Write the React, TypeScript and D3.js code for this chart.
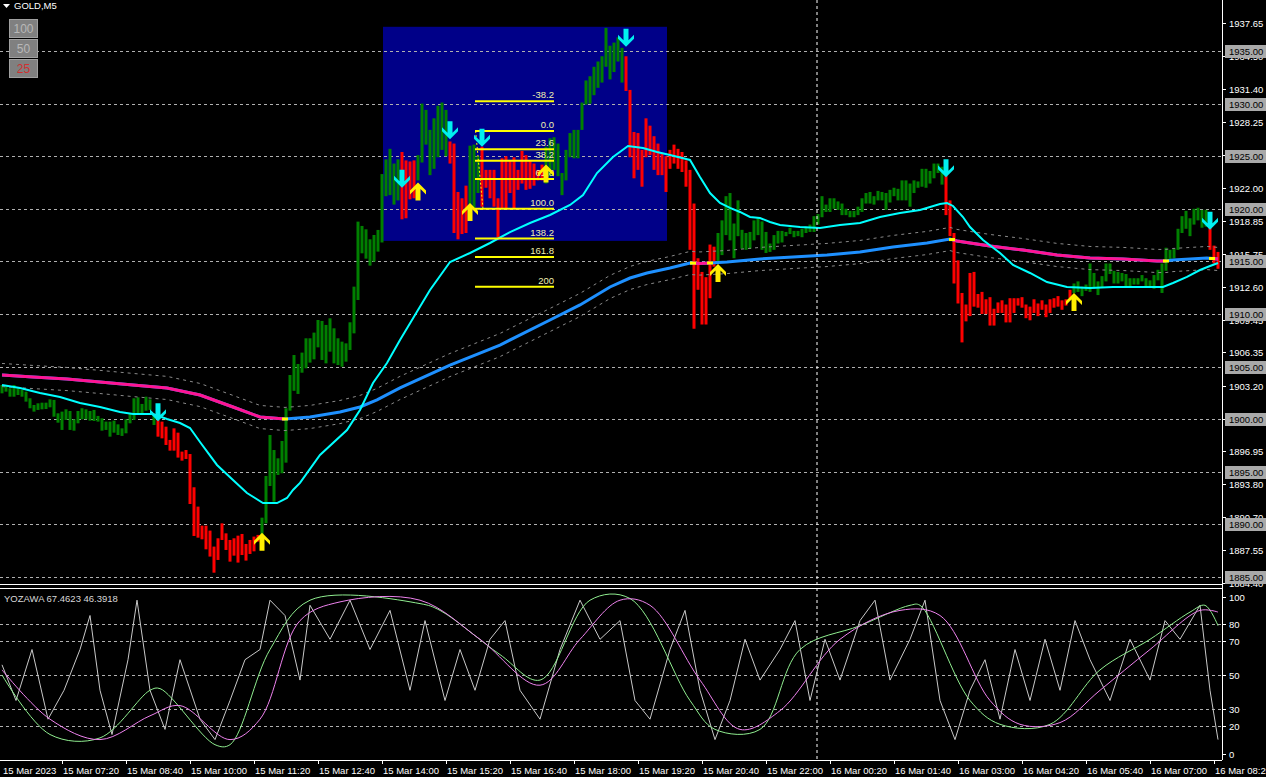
import React from 'react';
import * as d3 from 'd3';

// ---------- DATA ----------
const bodyHi = [
1903.25,1903.25,1902.94,1903.25,1902.94,1902.78,1902.62,1901.99,1901.35,1901.51,
1901.57,1901.57,1901.89,1901.83,1900.56,1900.72,1900.94,1900.78,1899.99,1900.78,
1901.04,1900.94,1900.78,1900.88,1900.31,1900.08,1899.77,1899.77,1899.86,1899.51,
1899.13,1899.99,1900.56,1901.99,1902.08,1901.45,1902.14,1901.89,1900.40,1899.93,
1899.77,1899.29,1898.03,1899.13,1898.72,1896.92,1897.07,1896.69,1893.53,1891.69,
1889.88,1889.88,1889.41,1887.89,1888.68,1890.10,1889.15,1888.52,1888.68,1888.93,
1889.09,1888.14,1888.52,1888.84,1889.00,1890.64,1894.60,1898.50,1897.07,1896.28,
1897.93,1901.04,1904.20,1906.10,1905.25,1906.33,1907.69,1907.69,1908.23,1909.43,
1909.34,1908.96,1909.59,1908.64,1907.69,1907.37,1907.21,1909.21,1912.60,1918.78,
1918.37,1918.05,1917.10,1917.51,1917.99,1923.30,1924.70,1925.70,1924.30,1924.70,
1925.40,1924.60,1924.50,1924.60,1925.10,1930.00,1929.40,1927.50,1928.60,1929.80,
1930.10,1929.40,1926.40,1926.20,1921.60,1921.00,1922.20,1926.00,1926.10,1925.00,
1925.90,1923.70,1923.70,1923.70,1921.00,1924.80,1925.00,1924.60,1924.90,1923.70,
1925.50,1925.10,1924.60,1924.30,1923.70,1924.20,1925.90,1926.70,1926.80,1926.20,
1923.40,1925.60,1927.20,1927.50,1927.50,1930.10,1932.20,1932.60,1933.50,1934.00,
1934.50,1937.20,1935.50,1935.80,1936.30,1935.30,1934.50,1931.30,1927.30,1927.20,
1925.60,1928.60,1927.90,1926.90,1926.20,1925.30,1925.00,1925.60,1926.10,1925.70,
1925.40,1924.60,1923.70,1920.50,1915.30,1914.00,1913.50,1916.60,1916.40,1917.70,
1918.90,1921.20,1921.50,1918.60,1920.80,1918.00,1917.70,1917.80,1918.90,1919.10,
1918.80,1917.80,1916.70,1917.50,1917.90,1917.90,1917.80,1918.20,1917.90,1917.90,
1918.10,1918.30,1918.50,1919.30,1919.50,1921.20,1920.40,1921.00,1921.00,1920.70,
1920.50,1920.00,1919.80,1919.80,1920.20,1921.00,1921.50,1921.60,1921.20,1921.70,
1921.60,1921.50,1921.80,1922.00,1921.90,1922.70,1922.70,1922.40,1922.70,1922.60,
1923.80,1923.80,1923.60,1924.30,1924.30,1924.00,1923.20,1920.80,1917.70,1915.10,
1912.00,1910.90,1913.90,1914.00,1911.90,1912.10,1911.40,1911.60,1910.50,1911.10,
1911.30,1910.90,1911.50,1911.50,1911.50,1911.60,1910.90,1910.70,1911.40,1911.00,
1911.30,1910.90,1911.40,1911.50,1911.70,1911.30,1911.40,1912.30,1912.90,1913.10,
1912.60,1912.80,1914.80,1913.90,1913.10,1913.60,1914.80,1914.80,1914.10,1914.00,
1913.90,1913.80,1913.40,1913.40,1913.40,1913.70,1913.40,1913.20,1913.70,1914.20,
1914.80,1916.30,1916.10,1916.20,1918.10,1919.30,1919.80,1919.10,1920.00,1920.10,
1919.90,1919.90,1918.20,1916.50,1915.90
];
const bodyLo = [
1902.46,1902.62,1902.14,1902.14,1902.30,1902.14,1901.67,1901.04,1900.72,1900.88,
1900.94,1900.97,1901.13,1900.24,1899.67,1898.98,1899.93,1898.98,1898.91,1899.61,
1899.99,1899.99,1899.86,1899.83,1899.77,1898.91,1898.98,1898.34,1898.72,1898.50,
1898.41,1898.66,1899.61,1899.93,1900.40,1900.50,1900.81,1900.88,1899.45,1898.34,
1898.18,1897.55,1897.01,1897.01,1896.35,1896.06,1896.22,1891.94,1888.90,1888.74,
1888.58,1887.63,1886.94,1885.41,1886.62,1888.52,1887.57,1886.46,1887.03,1886.37,
1887.09,1886.56,1887.19,1887.44,1888.36,1888.36,1890.10,1893.65,1892.16,1894.70,
1894.86,1895.87,1900.81,1902.70,1902.40,1904.42,1904.84,1905.38,1905.69,1906.83,
1905.63,1905.31,1906.42,1905.31,1905.15,1904.99,1905.47,1906.58,1908.16,1911.33,
1915.77,1915.26,1914.60,1914.98,1915.93,1916.80,1921.20,1921.30,1920.40,1920.80,
1919.00,1919.10,1920.90,1921.00,1922.70,1924.40,1926.10,1923.20,1923.80,1924.90,
1925.60,1925.00,1924.30,1917.70,1917.10,1917.60,1917.70,1920.20,1920.00,1921.50,
1920.20,1922.00,1921.00,1920.20,1917.30,1920.00,1920.00,1921.50,1920.00,1921.80,
1922.40,1921.80,1921.90,1922.20,1922.70,1922.70,1922.40,1923.10,1923.70,1923.10,
1921.30,1922.70,1924.90,1924.80,1924.80,1927.50,1929.90,1930.00,1930.80,1931.50,
1932.00,1933.50,1932.30,1933.00,1934.00,1932.00,1931.20,1924.90,1922.90,1923.70,
1922.10,1924.90,1925.10,1923.70,1923.20,1923.20,1921.60,1923.80,1924.30,1923.80,
1923.50,1922.10,1916.10,1908.60,1912.30,1909.00,1909.00,1911.50,1914.50,1915.00,
1915.60,1917.50,1917.00,1915.30,1917.40,1916.20,1916.10,1916.20,1917.00,1917.50,
1916.10,1915.80,1915.90,1916.10,1916.70,1916.80,1917.40,1917.60,1917.30,1917.40,
1917.30,1917.70,1917.80,1917.80,1918.50,1919.20,1919.70,1919.70,1920.00,1919.90,
1919.40,1919.40,1919.20,1919.20,1919.40,1919.70,1920.50,1920.50,1920.40,1920.80,
1920.80,1919.90,1920.60,1921.20,1920.80,1920.80,1920.80,1920.20,1921.50,1922.00,
1922.10,1922.00,1922.40,1922.90,1923.40,1922.30,1919.40,1917.40,1912.90,1911.00,
1907.30,1909.30,1909.80,1910.70,1910.60,1910.00,1910.00,1908.90,1908.90,1910.10,
1910.10,1909.20,1909.20,1910.10,1910.80,1910.60,1909.60,1909.40,1910.10,1909.80,
1910.40,1909.70,1910.10,1910.60,1910.70,1910.40,1910.80,1911.50,1912.00,1912.10,
1911.70,1912.20,1912.10,1912.40,1911.80,1912.50,1913.10,1913.80,1912.90,1912.90,
1913.10,1912.60,1912.60,1912.80,1912.80,1913.10,1912.60,1912.60,1912.40,1913.20,
1912.00,1914.10,1915.10,1915.30,1916.10,1917.70,1918.10,1917.40,1918.50,1918.90,
1918.20,1918.30,1916.10,1914.80,1914.30
];
// bar index where the signal turns, and new direction
const trendSwitchBars = [0, 39, 65, 100, 104, 112, 117, 120, 136, 156, 179, 236, 268, 302];
const trendSwitchDirs = ['up','down','up','down','up','down','up','down','up','down','up','down','up','down'];

// [bar, price]
const fastMa: [number, number][] = [
[0,1903.25],[4.5,1902.97],[9.5,1902.49],[14.5,1902.11],[19.5,1901.54],[24.5,1901.16],[29.5,1900.68],
[32.75,1900.49],[37.75,1900.49],[41.25,1900.02],[44.5,1899.64],[47,1899.16],[49.5,1897.83],[53.75,1895.65],
[57.75,1894.22],[61.25,1892.98],[65.25,1892.03],[68.75,1892.03],[71.25,1892.51],[72.75,1893.27],[74.5,1893.94],
[79.5,1896.6],[86.25,1898.97],[89.5,1900.87],[92.75,1903.44],[96.25,1905.34],[99.5,1907.53],[103.25,1909.9],
[107,1912.28],[112,1914.94],[117,1915.8],[122,1916.75],[127,1917.79],[132,1918.65],[137,1919.41],[142,1920.36],
[145.25,1921.31],[148.75,1923.4],[152.75,1924.92],[156.5,1925.97],[160.25,1925.78],[163.75,1925.4],[167,1925.11],
[172,1924.64],[174.5,1923.02],[177,1921.5],[179.5,1920.55],[182,1920.08],[184.5,1919.7],[187,1919.22],[189.5,1919.13],
[192,1918.75],[194.5,1918.46],[199.5,1918.27],[204.5,1918.17],[209.5,1918.46],[214.5,1918.65],[219.5,1919.22],
[224.5,1919.6],[229.5,1919.89],[234.5,1920.46],[236.25,1920.55],[237.75,1920.27],[240.25,1919.22],[242,1918.27],
[245.25,1917.03],[249.5,1915.8],[252.75,1914.66],[257,1913.9],[261.25,1913.04],[266.25,1912.57],[272,1912.47],
[277.75,1912.57],[284.5,1912.57],[290.25,1912.57],[292.75,1912.95],[296.25,1913.52],[299.5,1914.18],[302,1914.56],[304,1914.85]
];
const slowMa: [number, number][] = [
[0,1904.2],[7.75,1904.01],[16.25,1903.82],[24.5,1903.54],[32.75,1903.25],[41.25,1902.97],[49.5,1902.3],
[57.75,1901.16],[64.5,1900.21],[70.75,1900.02],[77,1900.21],[84.5,1900.68],[89.5,1901.16],[93.75,1901.83],
[99.5,1902.97],[112,1905.15],[124.5,1907.05],[137,1909.43],[144.5,1910.86],[152,1912.57],[157,1913.42],
[161.25,1913.9],[167,1914.37],[172,1914.85],[174.5,1914.8],[177,1914.85],[181.25,1914.94],[189.5,1915.23],
[197.75,1915.42],[206.25,1915.61],[214.5,1915.89],[222.75,1916.37],[231.25,1916.75],[237,1917.13],[238.75,1916.94],
[247,1916.46],[255.25,1916.08],[263.75,1915.61],[272,1915.32],[280.25,1915.23],[288.75,1915.04],[291,1915.04],
[292.75,1915.13],[301.25,1915.32],[304,1915.23]
];
// bar ranges where the slow MA is falling (drawn pink)
const slowMaFallingFrom = [0, 172.75, 237.5, 302.5];
const slowMaFallingTo = [70.75, 177, 291, 305];
const envelopeOffsets = [1.1];

const arrowDownBars = [39, 100, 112, 120, 156, 236, 302];
const arrowDownPrices = [1899.8, 1922.0, 1926.6, 1925.9, 1935.4, 1923.0, 1918.0];
const arrowUpBars = [65, 104, 117, 136, 179, 268];
const arrowUpPrices = [1889.2, 1922.5, 1920.55, 1924.2, 1914.75, 1912.0];

const fibLevels = [-38.2, 0, 23.6, 38.2, 61.8, 100, 138.2, 161.8, 200];
const fibLabels = ['-38.2', '0.0', '23.6', '38.2', '61.8', '100.0', '138.2', '161.8', '200'];
const fibPrice0 = 1927.4;
const fibPrice100 = 1920.0;
const fibBarFrom = 118.25;
const fibBarTo = 138;
const fibTrendBars = [118.4, 120.25];

const boxBars = [95.25, 166.25];
const boxPrices = [1937.3, 1916.95];

const gridLevels = [1935, 1930, 1925, 1920, 1915, 1910, 1905, 1900, 1895, 1890, 1885];
const priceTickLabels = ['1937.65','1934.50','1931.40','1928.25','1925.10','1922.00','1918.85','1915.75','1912.60',
  '1909.45','1906.35','1903.20','1900.05','1896.95','1893.80','1890.70','1887.55','1884.40'];
const timeTickBars = [15, 31, 47, 63, 79, 95, 111, 127, 143, 159, 175, 191, 207, 223, 239, 255, 271, 287, 303];
const timeTickLabels = ['15 Mar 07:20','15 Mar 08:40','15 Mar 10:00','15 Mar 11:20','15 Mar 12:40','15 Mar 14:00',
  '15 Mar 15:20','15 Mar 16:40','15 Mar 18:00','15 Mar 19:20','15 Mar 20:40','15 Mar 22:00','16 Mar 00:20',
  '16 Mar 01:40','16 Mar 03:00','16 Mar 04:20','16 Mar 05:40','16 Mar 07:00','16 Mar 08:20'];
const firstDateLabel = '15 Mar 2023';
const daySeparatorBar = 203.75;

const oscTickValues = [100, 80, 70, 50, 30, 20, 0];
const oscLevels = [80, 70, 50, 30, 20];
const oscWhite: [number, number][] = [
[0,56],[3.5,35],[7.5,65],[11.5,24],[15.5,41],[19.5,65],[22,85],[24.5,41],[27.5,15],[31.5,59],[33.75,94],[37,41],
[40.75,18],[44.5,59],[49.5,24],[53.25,12],[57,35],[60.75,59],[64.5,65],[67,94],[70.75,85],[74.5,47],[77,91],[82,71],
[87,94],[92,65],[97,88],[102,41],[105.75,82],[110.75,35],[114.5,65],[118.25,41],[122,71],[125.75,82],[129.5,41],
[134.5,24],[139.5,65],[144.5,94],[149.5,71],[154.5,82],[158.25,35],[162,24],[167,65],[170.75,88],[174.5,41],
[178.25,12],[182,35],[185.75,71],[189.5,47],[194.5,65],[198.25,82],[202,35],[205.75,71],[209.5,47],[214.5,82],
[218.25,94],[222,47],[227,71],[230.75,94],[234.5,35],[238.25,12],[242,41],[245.75,59],[249.5,24],[253.25,65],
[257,35],[260.75,71],[264.5,41],[268.25,82],[272,59],[277,35],[282,71],[287,47],[290.75,82],[294.5,71],[299.5,91],
[302,41],[304,12]
];
const oscGreen: [number, number][] = [
[0,50],[12,15],[24.5,13],[37,41],[39.5,42],[53.25,9],[57,9],[67,65],[77,94],[104.5,92],[109.5,88],[124.5,62],
[134.5,47],[147,94],[157,95],[172,35],[178.25,18],[189.5,18],[199.5,65],[214.5,79],[227,91],[229.5,91],[242,35],
[249.5,21],[262,21],[274.5,53],[287,71],[297,87],[300.75,91],[304,79]
];
const oscViolet: [number, number][] = [
[0,53],[12,24],[24.5,12],[37,26],[44.5,32],[57,12],[64.5,24],[74.5,82],[84.5,93],[104.5,94],[119.5,71],[134.5,44],
[144.5,71],[154.5,94],[162,91],[174.5,47],[184.5,18],[194.5,29],[209.5,71],[224.5,88],[234.5,85],[247,35],[254.5,21],
[264.5,22],[274.5,41],[287,65],[299.5,88],[304,87]
];
const oscTitle = 'YOZAWA 67.4623 46.3918';
const symbolTitle = 'GOLD,M5';
const zoomButtons = ['100', '50', '25'];

// ---------- COMPONENT ----------
const FONT = "'Liberation Sans', Arial, sans-serif";

export default function App() {
  const W = 1266, H = 777;
  const plotRight = 1222;
  const mainBottom = 583;
  const oscTop = 590, oscBottom = 760;

  const x = d3.scaleLinear().domain([0, 1]).range([2, 6]);
  const y = d3.scaleLinear().domain([1885, 1935]).range([577, 51]);
  const yo = d3.scaleLinear().domain([0, 100]).range([oscBottom, oscTop]);

  const trendAt = (i: number) => {
    let d = trendSwitchDirs[0];
    for (let k = 0; k < trendSwitchBars.length; k++) if (trendSwitchBars[k] <= i) d = trendSwitchDirs[k];
    return d;
  };

  const priceLine = d3.line<[number, number]>().x(d => x(d[0])).y(d => y(d[1]));
  const oscLine = d3.line<[number, number]>().x(d => x(d[0])).y(d => yo(d[1]));
  const oscSmooth = d3.line<[number, number]>().x(d => x(d[0])).y(d => yo(d[1])).curve(d3.curveCatmullRom.alpha(0.5));
  const slowInterp = d3.scaleLinear().domain(slowMa.map(d => d[0])).range(slowMa.map(d => d[1]));

  const fibPrice = (lv: number) => fibPrice0 + (fibPrice100 - fibPrice0) * lv / 100;

  const downArrow = 'M0,0 L-8,-8 L-8,-12 L-2.5,-6.5 L-2.5,-18 L2.5,-18 L2.5,-6.5 L8,-12 L8,-8 Z';
  const upArrow = 'M0,0 L-8,8 L-8,12 L-2.5,6.5 L-2.5,18 L2.5,18 L2.5,6.5 L8,12 L8,8 Z';

  const transitions = [...slowMaFallingFrom, ...slowMaFallingTo].filter(b => b > 0 && b < 304.5);

  return (
    <svg width={W} height={H} style={{ position: 'fixed', left: 0, top: 0, display: 'block', background: '#000' }}
      fontFamily={FONT}>
      <defs>
        <clipPath id="mainClip"><rect x={0} y={0} width={plotRight} height={mainBottom} /></clipPath>
        <clipPath id="oscClip"><rect x={0} y={oscTop} width={plotRight} height={oscBottom - oscTop} /></clipPath>
        {slowMaFallingFrom.map((a, k) => (
          <clipPath id={`fall${k}`} key={k}>
            <rect x={x(a)} y={0} width={x(slowMaFallingTo[k]) - x(a)} height={mainBottom} />
          </clipPath>
        ))}
      </defs>
      <rect x={0} y={0} width={W} height={H} fill="#000" />

      <g clipPath="url(#mainClip)">
        <rect x={x(boxBars[0])} y={y(boxPrices[0])} width={x(boxBars[1]) - x(boxBars[0])}
          height={y(boxPrices[1]) - y(boxPrices[0])} fill="#000088" />
        {gridLevels.map(g => (
          <line key={g} x1={0} x2={plotRight} y1={Math.round(y(g)) + 0.5} y2={Math.round(y(g)) + 0.5}
            stroke="#b0b0b0" strokeDasharray="3,3" strokeWidth={1} />
        ))}
        {bodyHi.map((hi, i) => {
          const lo = bodyLo[i];
          const t = y(hi), b = y(lo);
          return <rect key={i} x={x(i) - 1.5} y={t} width={3} height={Math.max(1, b - t)}
            fill={trendAt(i) === 'up' ? '#008000' : '#ff0000'} />;
        })}
        {envelopeOffsets.map(o => (
          <g key={o}>
            <path d={priceLine(slowMa.map(d => [d[0], d[1] + o] as [number, number])) || ''} fill="none"
              stroke="#8a8a8a" strokeDasharray="3,4" strokeWidth={1} />
            <path d={priceLine(slowMa.map(d => [d[0], d[1] - o] as [number, number])) || ''} fill="none"
              stroke="#8a8a8a" strokeDasharray="3,4" strokeWidth={1} />
          </g>
        ))}
        <path d={priceLine(slowMa) || ''} fill="none" stroke="#1e90ff" strokeWidth={3} />
        {slowMaFallingFrom.map((a, k) => (
          <path key={k} d={priceLine(slowMa) || ''} fill="none" stroke="#ff1493" strokeWidth={3}
            clipPath={`url(#fall${k})`} />
        ))}
        {transitions.map((b, k) => (
          <rect key={k} x={x(b) - 3} y={y(slowInterp(b)) - 1.5} width={6} height={3} fill="#ffff00" />
        ))}
        <path d={priceLine(fastMa) || ''} fill="none" stroke="#00ffff" strokeWidth={2} />

        {fibLevels.map((lv, k) => {
          const yy = y(fibPrice(lv));
          return (
            <g key={lv}>
              <line x1={x(fibBarFrom)} x2={x(fibBarTo)} y1={yy} y2={yy} stroke="#ffff00" strokeWidth={2} />
              <text x={x(fibBarTo)} y={yy - 3} textAnchor="end" fontSize={9.5} fill="#f0f0b0">{fibLabels[k]}</text>
            </g>
          );
        })}
        <line x1={x(fibTrendBars[0])} y1={y(fibPrice(0))} x2={x(fibTrendBars[1])} y2={y(fibPrice(100))}
          stroke="#ffff00" strokeDasharray="2,2" strokeWidth={1} />

        {arrowDownBars.map((b, k) => (
          <path key={'d' + k} d={downArrow} transform={`translate(${x(b)},${y(arrowDownPrices[k])})`} fill="#00f0f0" />
        ))}
        {arrowUpBars.map((b, k) => (
          <path key={'u' + k} d={upArrow} transform={`translate(${x(b)},${y(arrowUpPrices[k])})`} fill="#ffee00" />
        ))}
      </g>

      <line x1={x(daySeparatorBar)} x2={x(daySeparatorBar)} y1={0} y2={oscBottom} stroke="#ffffff"
        strokeDasharray="3,3" strokeWidth={1} />

      <g clipPath="url(#oscClip)">
        {oscLevels.map(l => (
          <line key={l} x1={0} x2={plotRight} y1={Math.round(yo(l)) + 0.5} y2={Math.round(yo(l)) + 0.5}
            stroke="#b0b0b0" strokeDasharray="3,3" />
        ))}
        <path d={oscLine(oscWhite) || ''} fill="none" stroke="#c8c8c8" strokeWidth={1} />
        <path d={oscSmooth(oscGreen) || ''} fill="none" stroke="#90ee90" strokeWidth={1} />
        <path d={oscSmooth(oscViolet) || ''} fill="none" stroke="#ee82ee" strokeWidth={1} />
      </g>
      <text x={4} y={602} fontSize={9.5} fill="#d8d8d8">{oscTitle}</text>

      <line x1={0} x2={plotRight} y1={584.5} y2={584.5} stroke="#fff" />
      <line x1={0} x2={plotRight} y1={588.5} y2={588.5} stroke="#fff" />
      <line x1={0} x2={plotRight} y1={oscBottom + 0.5} y2={oscBottom + 0.5} stroke="#fff" />
      <line x1={plotRight + 0.5} x2={plotRight + 0.5} y1={0} y2={oscBottom} stroke="#fff" />

      {priceTickLabels.map(s => {
        const yy = Math.round(y(parseFloat(s)));
        return (
          <g key={s}>
            <line x1={plotRight} x2={plotRight + 4} y1={yy + 0.5} y2={yy + 0.5} stroke="#fff" />
            <text x={plotRight + 7} y={yy + 3.5} fontSize={9.5} fill="#fff">{s}</text>
          </g>
        );
      })}
      {gridLevels.map(g => {
        const yy = Math.round(y(g));
        return (
          <g key={g}>
            <rect x={plotRight + 3} y={yy - 6} width={41} height={13} fill="#a9a9a9" />
            <text x={plotRight + 7} y={yy + 4} fontSize={9.5} fill="#000">{g.toFixed(2)}</text>
          </g>
        );
      })}

      {oscTickValues.map(v => {
        const yy = Math.min(754, Math.max(597, Math.round(yo(v))));
        return (
          <g key={v}>
            <line x1={plotRight} x2={plotRight + 4} y1={yy + 0.5} y2={yy + 0.5} stroke="#fff" />
            <text x={plotRight + 7} y={yy + 3.5} fontSize={9.5} fill="#fff">{v}</text>
          </g>
        );
      })}

      <text x={3} y={774} fontSize={9.5} fill="#fff">{firstDateLabel}</text>
      {timeTickBars.map((b, k) => (
        <g key={b}>
          <line x1={Math.round(x(b)) + 0.5} x2={Math.round(x(b)) + 0.5} y1={oscBottom} y2={oscBottom + 4} stroke="#fff" />
          <text x={x(b) + 1} y={774} fontSize={9.5} fill="#fff">{timeTickLabels[k]}</text>
        </g>
      ))}

      <path d="M3,4 L10,4 L6.5,8 Z" fill="#fff" />
      <text x={14} y={9} fontSize={9.5} fill="#fff">{symbolTitle}</text>
      {zoomButtons.map((t, k) => (
        <g key={t}>
          <rect x={9.5} y={19.5 + k * 20} width={28} height={18} fill="#808080" stroke="#a0a0a0" />
          <text x={23.5} y={33 + k * 20} textAnchor="middle" fontSize={12} fill={k === 2 ? '#d03030' : '#b8b8b8'}>{t}</text>
        </g>
      ))}
    </svg>
  );
}
